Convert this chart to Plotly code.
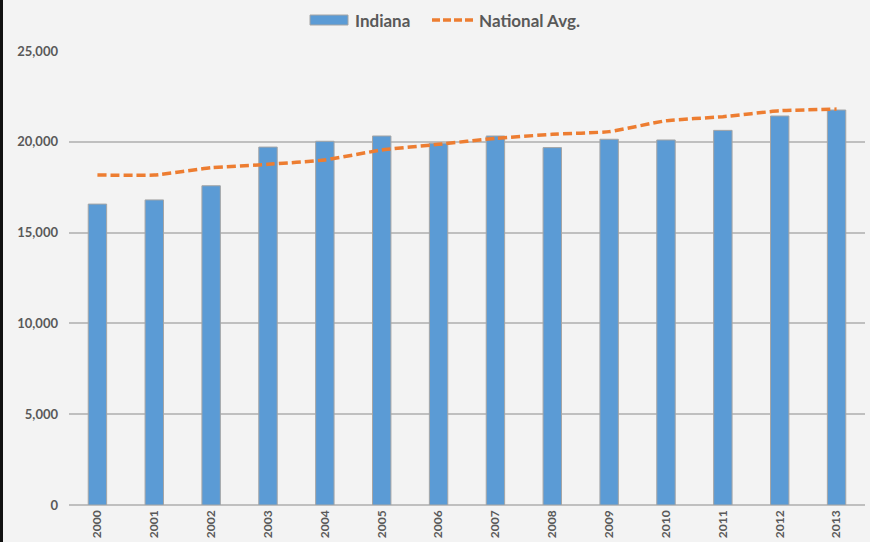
import plotly.graph_objects as go

years = [str(y) for y in range(2000, 2014)]
indiana = [16570, 16800, 17580, 19710, 20030, 20320, 19920, 20320, 19680, 20140, 20100, 20630, 21420, 21750]
national = [18170, 18170, 18570, 18760, 19000, 19550, 19860, 20190, 20410, 20560, 21160, 21380, 21710, 21800]
y_ticks = [0, 5000, 10000, 15000, 20000, 25000]
y_labels = ["0", "5,000", "10,000", "15,000", "20,000", "25,000"]
series_names = ["Indiana", "National Avg."]

font_family = "Lato, 'Open Sans', sans-serif"
grey_text = "#595959"
bar_color = "#5B9BD5"
line_color = "#ED7D31"

fig = go.Figure()
fig.add_trace(go.Bar(
    x=years, y=indiana, name=series_names[0],
    marker=dict(color=bar_color, line=dict(color="#a5a5a5", width=1)),
))
fig.add_trace(go.Scatter(
    x=years, y=national, name=series_names[1], mode="lines",
    line=dict(color=line_color, width=3.5, dash="9px,4px", shape="spline", smoothing=0.4),
))

L, R, T, B = 69, 5, 51, 37
PW, PH = 870 - L - R, 542 - T - B


def px_x(p):
    return (p - L) / PW


def px_y(p):
    return (542 - B - p) / PH


fig.update_layout(
    width=870, height=542,
    margin=dict(l=L, r=R, t=T, b=B, autoexpand=False),
    paper_bgcolor="#f3f3f3", plot_bgcolor="#f3f3f3",
    bargap=0.676,
    font=dict(family=font_family, color=grey_text),
    showlegend=False,
)
fig.update_xaxes(
    type="category", tickangle=-90, automargin=False,
    tickfont=dict(size=12, color=grey_text, family=font_family, weight="bold"),
    showgrid=False, showline=False, ticks="", ticklabelstandoff=2,
)
fig.update_yaxes(
    range=[0, 25000], tickvals=y_ticks, ticktext=y_labels, automargin=False,
    tickfont=dict(size=13, color=grey_text, family=font_family, weight="bold"),
    showgrid=True, gridcolor="#bfbfbf", gridwidth=1.5,
    zeroline=True, zerolinecolor="#bfbfbf", zerolinewidth=1.5,
    showline=False, ticks="", ticklabelstandoff=10,
)

# legend drawn at the top (wide bar key + dashed line key)
fig.add_shape(type="rect", xref="paper", yref="paper",
              x0=px_x(310), x1=px_x(348), y0=px_y(25), y1=px_y(15),
              fillcolor=bar_color, line=dict(color="#a5a5a5", width=1))
fig.add_annotation(xref="paper", yref="paper", x=px_x(353), y=px_y(20),
                   xanchor="left", yanchor="middle", showarrow=False,
                   text=series_names[0],
                   font=dict(size=17, color=grey_text, family=font_family, weight="bold"))
fig.add_shape(type="line", xref="paper", yref="paper",
              x0=px_x(432), x1=px_x(474), y0=px_y(20), y1=px_y(20),
              line=dict(color=line_color, width=3.5, dash="8px,3px"))
fig.add_annotation(xref="paper", yref="paper", x=px_x(477), y=px_y(20),
                   xanchor="left", yanchor="middle", showarrow=False,
                   text=series_names[1],
                   font=dict(size=17, color=grey_text, family=font_family, weight="bold"))

# dark strip at the left edge of the picture
fig.add_shape(type="rect", xref="paper", yref="paper",
              x0=px_x(0), x1=px_x(3), y0=px_y(542), y1=px_y(0),
              fillcolor="#111111", line=dict(width=0), layer="above")

fig.write_html(
    "out.html",
    config={"displayModeBar": False},
    post_script="document.body.style.margin='0';document.body.style.background='#f3f3f3';",
)
